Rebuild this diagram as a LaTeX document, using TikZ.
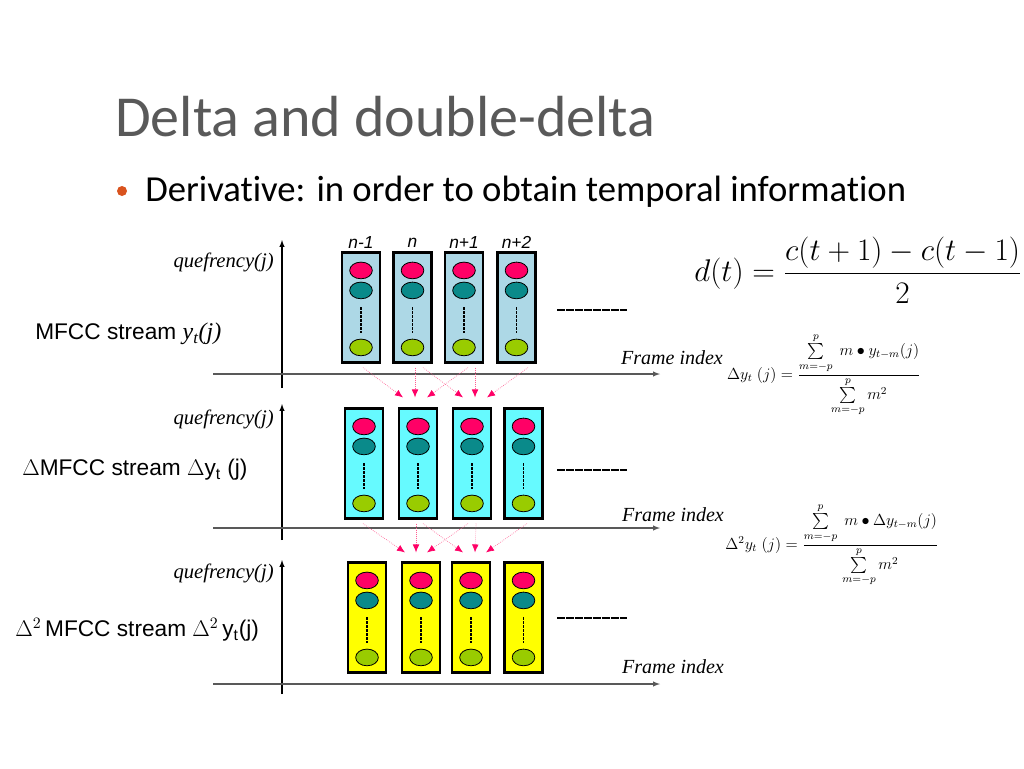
\RequirePackage{fix-cm}
\documentclass[tikz,border=0pt]{standalone}
\usepackage{amssymb,amsmath}
\usepackage{fontspec}
\setmainfont{Liberation Serif}
\newfontfamily\calibri[Ligatures=NoCommon]{Carlito}
\newfontfamily\arialsf{Liberation Sans}
\usepackage{tikz}
\usetikzlibrary{shapes}
\usetikzlibrary{arrows,arrows.meta,calc}
\definecolor{boxblue}{RGB}{173,216,230}
\definecolor{boxcyan}{RGB}{102,250,255}
\definecolor{boxyellow}{RGB}{255,255,0}
\definecolor{dotpink}{RGB}{255,0,102}
\definecolor{dotteal}{RGB}{10,138,138}
\definecolor{dotgreen}{RGB}{153,204,0}
\definecolor{titlegray}{RGB}{89,89,89}
\definecolor{bulletorange}{RGB}{217,83,30}
\definecolor{arrowpink}{RGB}{255,40,110}
\tikzset{coefbox/.style={draw=black, line width=1.6pt, minimum width=28.5pt, minimum height=82.5pt, inner sep=0pt},
  coef/.style={ellipse, draw=black, line width=0.6pt, minimum width=17pt, minimum height=12.5pt, inner sep=0pt},
  deltaline/.style={-{Latex[length=6pt,width=5pt,color=dotpink]}, draw=arrowpink!75, densely dotted, line width=0.5pt},
  axisline/.style={-latex, line width=0.8pt},
  quef/.style={anchor=east, font=\fontsize{15.5}{17}\selectfont\itshape, inner sep=0pt},
  frameidx/.style={font=\fontsize{15}{17}\selectfont\itshape, inner sep=0pt},
  streamlab/.style={anchor=west, font=\arialsf\fontsize{17}{19}\selectfont, inner sep=0pt},
  nlab/.style={font=\arialsf\itshape\fontsize{13}{15}\selectfont, inner sep=0pt}}

\begin{document}
\begin{tikzpicture}[x=0.75pt, y=-0.75pt]
\useasboundingbox (0,0) rectangle (1024,768);
\node[anchor=base west, font=\calibri\fontsize{43.5}{50}\selectfont, text=titlegray, inner sep=0pt] (title) at (115,136) {Delta and double-delta};
\node[circle, fill=bulletorange, minimum size=7.5pt, inner sep=0pt] (dot) at (122,191) {};
\node[anchor=base west, font=\calibri\fontsize{27.5}{32}\selectfont, inner sep=0pt] (bullet) at (145,201) {Derivative: in order to obtain temporal information};

\foreach \s/\yb/\yt/\yh in {1/388/240/374, 2/540/404/528, 3/694/560/684} {
  \coordinate (vb\s) at (282,\yb);
  \coordinate (vt\s) at (282,\yt);
  \coordinate (hl\s) at (213,\yh);
  \coordinate (hr\s) at (660,\yh);
  \draw[axisline] (vb\s) -- (vt\s);
  \draw[axisline, black!65] (hl\s) -- (hr\s);
}

\foreach \x [count=\i] in {361,412.5,464,516.5}
  \node[coefbox, fill=boxblue] (mfcc\i) at (\x,307.5) {};
\foreach \x [count=\i] in {364,418,472,523.5}
  \node[coefbox, fill=boxcyan] (dlt\i) at (\x,463.5) {};
\foreach \x [count=\i] in {367,421,471,523.5}
  \node[coefbox, fill=boxyellow] (ddl\i) at (\x,617.5) {};

\foreach \r in {mfcc,dlt,ddl} \foreach \i in {1,...,4} {
  \node[coef, fill=dotpink] (\r\i-hi) at ($(\r\i.north)+(0,19)$) {};
  \node[coef, fill=dotteal] (\r\i-mid) at ($(\r\i.north)+(0,39)$) {};
  \node[coef, fill=dotgreen] (\r\i-lo) at ($(\r\i.north)+(0,96)$) {};
  \draw[dash pattern=on 2.2pt off 0.8pt, line width=1pt] ($(\r\i-mid.south)+(0,8)$) -- ($(\r\i-lo.north)+(0,-6)$);
}

\foreach \y in {310,470,618}
  \draw[dash pattern=on 6pt off 0.7pt, line width=0.9pt] (557,\y) -- (627,\y);

\foreach \a/\da/\b/\db in {mfcc1/2/dlt2/-15, mfcc2/2.5/dlt2/-3, mfcc3/4/dlt2/9, mfcc2/10.5/dlt3/-9, mfcc3/11/dlt3/3, mfcc4/11.5/dlt3/15}
  \draw[deltaline] ($(\a.south)+(\da,4)$) -- ($(\b.north)+(\db,-10)$);
\foreach \a/\da/\b/\db in {dlt1/-1/ddl2/-16, dlt2/-2/ddl2/-5, dlt3/-4/ddl2/6, dlt2/5/ddl3/-8, dlt3/4/ddl3/4, dlt4/3.5/ddl3/15}
  \draw[deltaline] ($(\a.south)+(\da,4)$) -- ($(\b.north)+(\db,-9)$);

\foreach \n/\t in {1/n-1, 2/n, 3/n+1, 4/n+2}
  \node[nlab] (idx\n) at ($(mfcc\n.north)+(0,-9)$) {\t};

\node[quef] (quef1) at (274,262) {quefrency(j)};
\node[quef] (quef2) at (274,419) {quefrency(j)};
\node[quef] (quef3) at (274,573) {quefrency(j)};
\node[frameidx] (fidx1) at (672,358) {Frame index};
\node[frameidx] (fidx2) at (673,515) {Frame index};
\node[frameidx] (fidx3) at (673,667) {Frame index};

\node[streamlab] (lab1) at (35,334) {MFCC stream {\rmfamily\itshape\fontsize{18}{20}\selectfont y\textsubscript{t}(j)}};
\node[streamlab] (lab2) at (22,470) {$\Delta$MFCC stream $\Delta$y\textsubscript{t} (j)};
\node[streamlab] (lab3) at (15,630) {$\Delta^{2}$\,MFCC stream $\Delta^{2}$\,y\textsubscript{t}(j)};

\node (dform) at (858,270) {\fontsize{23.5}{27}\selectfont $d(t)=\dfrac{c(t+1)-c(t-1)}{2}$};
\node[inner sep=1pt] (dform1) at (824,375) {\fontsize{12}{14}\selectfont $\Delta y_t\;(j)=\dfrac{\sum\limits_{m=-p}^{p}\; m\bullet y_{t-m}(j)}{\sum\limits_{m=-p}^{p} m^2}$};
\node[inner sep=1pt] (dform2) at (832,545) {\fontsize{12}{14}\selectfont $\Delta^2 y_t\;(j)=\dfrac{\sum\limits_{m=-p}^{p}\; m\bullet \Delta y_{t-m}(j)}{\sum\limits_{m=-p}^{p} m^2}$};
\end{tikzpicture}
\end{document}
